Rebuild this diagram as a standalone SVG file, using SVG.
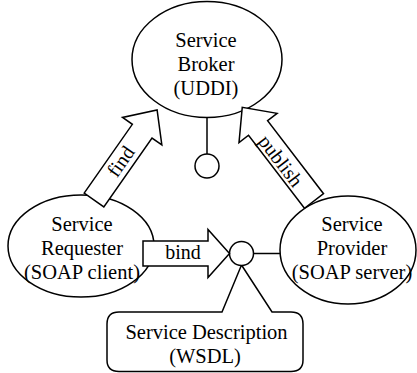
<svg xmlns="http://www.w3.org/2000/svg" width="417" height="373" viewBox="0 0 417 373">
  <style>
    .shape { fill: #fff; stroke: #000; stroke-width: 1.5; }
    .line { fill: none; stroke: #000; stroke-width: 1.5; }
    .txt { font-size: 20.5px; fill: #000; text-anchor: middle; }
    .lbl { font-size: 20px; }
  </style>
  <rect width="417" height="373" fill="#fff"/>

  <g font-family="'Liberation Serif', 'DejaVu Serif', serif">
  <g id="broker">
    <ellipse class="shape" cx="207" cy="59.5" rx="75" ry="58"/>
    <text class="txt" x="206" y="46.5">Service</text>
    <text class="txt" x="206" y="70.5">Broker</text>
    <text class="txt" x="206" y="94.5">(UDDI)</text>
  </g>

  <g id="broker-interface">
    <line class="line" x1="207" y1="117.5" x2="207" y2="154"/>
    <circle class="shape" cx="207" cy="166" r="12"/>
  </g>

  <g id="requester">
    <ellipse class="shape" cx="81" cy="246" rx="73" ry="51"/>
    <text class="txt" x="82" y="230.5">Service</text>
    <text class="txt" x="82" y="254.5">Requester</text>
    <text class="txt" x="82" y="278.5">(SOAP client)</text>
  </g>

  <g id="provider">
    <ellipse class="shape" cx="348" cy="250" rx="68" ry="54"/>
    <text class="txt" x="352" y="230.5">Service</text>
    <text class="txt" x="352" y="254.5">Provider</text>
    <text class="txt" x="352" y="278.5">(SOAP server)</text>
  </g>

  <g id="description">
    <path class="shape" d="M241.5,265 L272,312 H291 Q303,312 303,324 V360 Q303,371.5 291,371.5 H119 Q107,371.5 107,360 V324 Q107,312 119,312 H222 Z"/>
    <text class="txt" x="206.5" y="339">Service Description</text>
    <text class="txt" x="205" y="363">(WSDL)</text>
  </g>

  <g id="connectors">
    <!-- provider exposes the service interface -->
    <line class="line" x1="253.5" y1="253.5" x2="280" y2="253.5"/>
    <circle class="shape" cx="241.5" cy="253.5" r="12"/>

    <!-- find: requester to broker -->
    <g transform="translate(94,200) rotate(-55)">
      <polygon class="shape" points="0,-12 84,-12 84,-24 110,0 84,24 84,12 0,12"/>
      <text class="txt lbl" x="47" y="6.5">find</text>
    </g>

    <!-- publish: provider to broker -->
    <g transform="translate(314,201) rotate(-127.45)">
      <polygon class="shape" points="0,-12 92,-12 92,-24 118,0 92,24 92,12 0,12"/>
    </g>
    <text class="txt lbl" transform="translate(280.5,161) rotate(52.55)" y="6.5">publish</text>

    <!-- bind: requester to service interface -->
    <polygon class="shape" points="143,241 208,241 208,229.5 229.5,253.5 208,277.5 208,266 143,266"/>
    <text class="txt lbl" x="183" y="258.5">bind</text>
  </g>
  </g>
</svg>
